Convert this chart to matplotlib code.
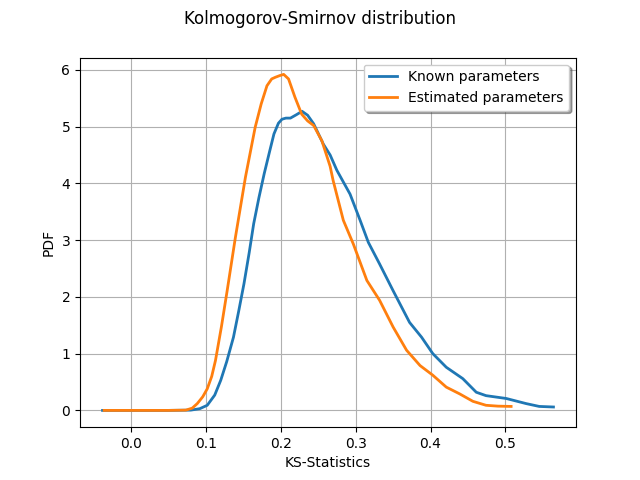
import numpy as np
import matplotlib
matplotlib.use('Agg')
import matplotlib.pyplot as plt

# KS-statistics PDF
known_x = [-0.0377, 0.0, 0.05, 0.08, 0.092, 0.102, 0.112, 0.12, 0.128, 0.137, 0.144, 0.151,
           0.158, 0.164, 0.171, 0.178, 0.185, 0.191, 0.197, 0.2017, 0.207, 0.213,
           0.221, 0.2285, 0.236, 0.244, 0.257, 0.266, 0.275, 0.2926, 0.306, 0.317,
           0.332, 0.350, 0.372, 0.388, 0.403, 0.421, 0.443, 0.461, 0.474, 0.501,
           0.5275, 0.545, 0.564]
known_y = [0.0, 0.0, 0.0, 0.005, 0.03, 0.09, 0.27, 0.53, 0.86, 1.29, 1.75, 2.23,
           2.78, 3.29, 3.75, 4.17, 4.55, 4.87, 5.06, 5.13, 5.15, 5.15,
           5.21, 5.27, 5.2, 5.05, 4.69, 4.5, 4.23, 3.81, 3.35, 2.96,
           2.58, 2.11, 1.55, 1.29, 1.0, 0.76, 0.56, 0.32, 0.26, 0.21,
           0.12, 0.07, 0.06]

est_x = [-0.0355, 0.0, 0.05, 0.0735, 0.082, 0.0887, 0.096, 0.102, 0.108, 0.113, 0.121,
         0.1286, 0.1396, 0.153, 0.166, 0.174, 0.1817, 0.188, 0.193, 0.199, 0.204,
         0.2105, 0.219, 0.228, 0.236, 0.244, 0.255, 0.266, 0.270, 0.2836, 0.297,
         0.315, 0.332, 0.350, 0.368, 0.386, 0.403, 0.421, 0.439, 0.4565, 0.474,
         0.490, 0.5075]
est_y = [0.0, 0.0, 0.0, 0.005, 0.04, 0.12, 0.24, 0.38, 0.6, 0.88, 1.48,
         2.11, 3.05, 4.11, 4.99, 5.4, 5.72, 5.84, 5.87, 5.9, 5.92,
         5.84, 5.52, 5.22, 5.1, 5.02, 4.75, 4.3, 4.05, 3.35, 2.93,
         2.29, 1.94, 1.47, 1.06, 0.79, 0.62, 0.41, 0.29, 0.16, 0.09,
         0.075, 0.07]

fig, ax = plt.subplots(figsize=(6.4, 4.8), dpi=100)
ax.plot(known_x, known_y, color='#1f77b4', linewidth=2, label='Known parameters')
ax.plot(est_x, est_y, color='#ff7f0e', linewidth=2, label='Estimated parameters')
fig.suptitle('Kolmogorov-Smirnov distribution')
ax.set_xlabel('KS-Statistics')
ax.set_ylabel('PDF')
ax.grid(True)
ax.legend(loc='upper right', shadow=True)
fig.savefig('out.png', dpi=100)
